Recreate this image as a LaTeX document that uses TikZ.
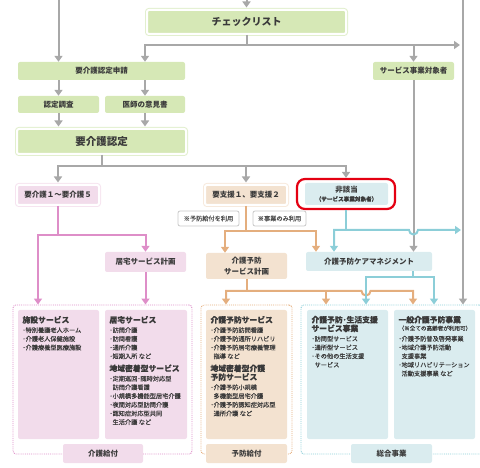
\documentclass[tikz,border=0pt]{standalone}
\usepackage{fontspec}
\setmainfont{Noto Sans CJK JP}
\newfontfamily\bodyfont[FakeBold=0.2]{Noto Sans CJK JP}
\usetikzlibrary{arrows.meta, calc}
\usepackage{xcolor}
% Colors
\definecolor{txt}{RGB}{58,58,58}
\definecolor{greenFill}{RGB}{214,232,182}
\definecolor{greenRing}{RGB}{226,239,206}
\definecolor{pinkFill}{RGB}{242,220,235}
\definecolor{pinkRing}{RGB}{246,228,240}
\definecolor{pinkLine}{RGB}{222,142,200}
\definecolor{tanFill}{RGB}{243,226,208}
\definecolor{tanRing}{RGB}{247,234,221}
\definecolor{tanLine}{RGB}{228,174,126}
\definecolor{tealFill}{RGB}{218,236,239}
\definecolor{tealLine}{RGB}{140,206,216}
\definecolor{grayLine}{RGB}{168,168,168}
\definecolor{noteLine}{RGB}{200,200,200}
\definecolor{alertRed}{RGB}{228,0,18}
\newcommand{\panelhead}[1]{{\fontsize{7.8}{10}\selectfont\bfseries #1}}
\tikzset{
    >={Triangle[width=8pt,length=6pt]},
    % Shapes
    box/.style={rectangle, rounded corners=2pt, inner sep=1pt, align=center,
                text=txt, font=\fontsize{7.5}{10.5}\selectfont\bfseries},
    boxGreen/.style={box, fill=greenFill},
    boxPink/.style={box, fill=pinkFill},
    boxTan/.style={box, fill=tanFill},
    boxTeal/.style={box, fill=tealFill},
    ring/.style={preaction={draw=#1, line width=4pt}, draw=white, line width=2pt},
    redMark/.style={rectangle, draw=alertRed, line width=2.2pt, rounded corners=8pt},
    note/.style={rectangle, draw=noteLine, line width=0.8pt, rounded corners=2pt, fill=white,
                 inner sep=1pt, text={rgb,255:red,80;green,80;blue,80},
                 font=\bodyfont\fontsize{6.2}{7}\selectfont},
    area/.style={rectangle, densely dotted, line width=0.9pt, rounded corners=3pt},
    panel/.style={rectangle, rounded corners=2pt, minimum height=129pt},
    panelTxt/.style={anchor=north west, inner sep=0pt, align=left, text=txt,
                     font=\bodyfont\fontsize{6.2}{8.7}\selectfont},
    % Flow
    flowGray/.style={->, line width=2pt, draw=grayLine},
    flowPink/.style={->, line width=2pt, draw=pinkLine},
    flowTan/.style={->, line width=2pt, draw=tanLine},
    flowTeal/.style={->, line width=2pt, draw=tealLine}
}
\begin{document}
\begin{tikzpicture}[x=1pt, y=-1pt]
\useasboundingbox (0,0) rectangle (480,468);

% areas
\node[area, draw=pinkLine, minimum width=179pt, minimum height=149pt] (areaKyufu) at (102.5,379.5) {};
\node[area, draw=tanLine, minimum width=91pt, minimum height=149pt] (areaYobo) at (246.5,379.5) {};
\node[area, draw=tealLine, minimum width=181pt, minimum height=149pt] (areaSogo) at (391.5,379.5) {};

% boxes
\node[boxGreen, ring=greenRing, minimum width=199pt, minimum height=24pt,
      font=\fontsize{10}{12}\selectfont\bfseries] (check) at (246.5,22) {チェックリスト};
\node[boxGreen, minimum width=167pt, minimum height=18pt] (apply) at (101.5,71) {要介護認定申請};
\node[boxGreen, minimum width=81pt, minimum height=18pt] (target) at (413.5,71) {サービス事業対象者};
\node[boxGreen, minimum width=81pt, minimum height=17pt] (survey) at (58.5,104.5) {認定調査};
\node[boxGreen, minimum width=80pt, minimum height=17pt] (doctor) at (145,104.5) {医師の意見書};
\node[boxGreen, ring=greenRing, minimum width=169pt, minimum height=25pt,
      font=\fontsize{10.5}{12}\selectfont\bfseries] (cert) at (101.5,141.5) {要介護認定};
\node[boxPink, ring=pinkRing, minimum width=82pt, minimum height=20pt] (care) at (58,195) {要介護１～要介護５};
\node[boxTan, ring=tanRing, minimum width=82pt, minimum height=20pt] (support) at (246,195) {要支援１、要支援２};
\node[boxTeal, minimum width=83pt, minimum height=22pt] (none) at (346.5,194)
     {非該当\\[-2pt]{\bodyfont\fontsize{5.6}{7}\selectfont（サービス事業対象者）}};
\node[redMark, minimum width=98pt, minimum height=30pt] (noneMark) at (346,194) {};
\node[note, minimum width=61pt, minimum height=15pt] (noteA) at (208.5,218.5) {※予防給付を利用};
\node[note, minimum width=53pt, minimum height=15pt] (noteB) at (279.5,218.5) {※事業のみ利用};
\node[boxPink, minimum width=81pt, minimum height=20pt] (homeplan) at (145.5,262) {居宅サービス計画};
\node[boxTan, minimum width=81pt, minimum height=26pt] (prevplan) at (246.5,266) {介護予防\\サービス計画};
\node[boxTeal, minimum width=126pt, minimum height=19pt] (mgmt) at (369,261.5) {介護予防ケアマネジメント};

% panels
\node[panel, fill=pinkFill, minimum width=81pt] (facility) at (58.5,374.5) {};
\node[panel, fill=pinkFill, minimum width=82pt] (home) at (146,374.5) {};
\node[panel, fill=tanFill, minimum width=81pt] (prevsvc) at (246.5,374.5) {};
\node[panel, fill=tealFill, minimum width=81pt] (life) at (347.5,374.5) {};
\node[panel, fill=tealFill, minimum width=81pt] (general) at (434.5,374.5) {};

\node[panelTxt] (facilityTxt) at ([shift={(4.5,6)}]facility.north west)
  {\panelhead{施設サービス}\\[1pt]
   ･特別養護老人ホーム\\
   ･介護老人保健施設\\
   ･介護療養型医療施設};
\node[panelTxt] (homeTxt) at ([shift={(4.5,6)}]home.north west)
  {\panelhead{居宅サービス}\\[1pt]
   ･訪問介護\\
   ･訪問看護\\
   ･通所介護\\
   ･短期入所 など\\[4pt]
   \panelhead{地域密着型サービス}\\[1pt]
   ･定期巡回･随時対応型\\
   \hspace*{0.5em}訪問介護看護\\
   ･小規模多機能型居宅介護\\
   ･夜間対応型訪問介護\\
   ･認知症対応型共同\\
   \hspace*{0.5em}生活介護 など};
\node[panelTxt] (prevsvcTxt) at ([shift={(4.5,6)}]prevsvc.north west)
  {\panelhead{介護予防サービス}\\[1pt]
   ･介護予防訪問看護\\
   ･介護予防通所リハビリ\\
   ･介護予防居宅療養管理\\
   \hspace*{0.5em}指導 など\\[4pt]
   \panelhead{地域密着型介護}\\
   \panelhead{予防サービス}\\[1pt]
   ･介護予防小規模\\
   \hspace*{0.5em}多機能型居宅介護\\
   ･介護予防認知症対応型\\
   \hspace*{0.5em}通所介護 など};
\node[panelTxt] (lifeTxt) at ([shift={(4.5,6)}]life.north west)
  {\panelhead{介護予防･生活支援}\\
   \panelhead{サービス事業}\\[1pt]
   ･訪問型サービス\\
   ･通所型サービス\\
   ･その他の生活支援\\
   \hspace*{0.5em}サービス};
\node[panelTxt] (generalTxt) at ([shift={(4.5,6)}]general.north west)
  {\panelhead{一般介護予防事業}\\[-1pt]
   {\fontsize{5.6}{7}\selectfont（※全ての高齢者が利用可）}\\[2pt]
   ･介護予防普及啓発事業\\
   ･地域介護予防活動\\
   \hspace*{0.5em}支援事業\\
   ･地域リハビリテーション\\
   \hspace*{0.5em}活動支援事業 など};

% area labels
\node[boxPink, minimum width=80pt, minimum height=19pt] (lblKyufu) at (103,453.5) {介護給付};
\node[boxTan, minimum width=81pt, minimum height=19pt] (lblYobo) at (246.5,453.5) {予防給付};
\node[boxTeal, minimum width=81pt, minimum height=19pt] (lblSogo) at (391.5,453.5) {総合事業};

% junctions
\coordinate (inL) at (58.5,0);
\coordinate (inC) at (246.5,0);
\coordinate (inR) at (463,0);
\coordinate (j1) at (246.5,45);
\coordinate (j2) at (101.5,166);
\coordinate (pinkL) at (38,235);
\coordinate (tanL) at (225,231);
\coordinate (tanR) at (316,231);
\coordinate (tealL) at (334,230);
\coordinate (tealR) at (461,230);
\coordinate (tealA) at (366,277);
\coordinate (tealB) at (434,277);
\coordinate (tan1) at (226,291);
\coordinate (tan2) at (326,291);
\coordinate (tan3) at (413,291);

% gray flow
\draw[flowGray] (inL) -- (apply.north -| inL);
\draw[flowGray, shorten >=1.5pt] (inC) -- (check.north);
\draw[flowGray] (inR) -- (inR |- areaSogo.north);
\draw[flowGray, -] (check.south) -- (j1);
\draw[flowGray, <->, shorten >=1pt] (doctor |- apply.north) -- (doctor |- j1) -- (j1 -| tealR);
\draw[flowGray] (j1 -| target) -- (target.north);
\draw[flowGray] (apply.south -| survey) -- (survey.north);
\draw[flowGray] (apply.south -| doctor) -- (doctor.north);
\draw[flowGray, shorten >=1.5pt] (survey.south) -- (survey.south |- cert.north);
\draw[flowGray, shorten >=1.5pt] (doctor.south) -- (doctor.south |- cert.north);
\draw[flowGray, -] (cert.south) -- (j2);
\draw[flowGray, <->, shorten <=1.5pt] (care.north) -- (care.north |- j2) -- (j2 -| noneMark) -- (noneMark.north);
\draw[flowGray, shorten >=1.5pt] (j2 -| support) -- (support.north);
\draw[flowGray] (target.south) -- (target.south |- mgmt.north);

% pink flow
\draw[flowPink, -] (care.south) -- (care.south |- pinkL);
\draw[flowPink, <->] (pinkL |- areaKyufu.north) -- (pinkL) -- (pinkL -| homeplan) -- (homeplan.north);
\draw[flowPink] (homeplan.south) -- (homeplan.south |- areaKyufu.north);

% tan flow
\draw[flowTan, -] (support.south) -- (support.south |- tanL);
\draw[flowTan, <->] (tanL |- prevplan.north) -- (tanL) -- (tanR) -- (tanR |- mgmt.north);
\draw[flowTan, -] (prevplan.south) -- (prevplan.south |- tan1);
\draw[flowTan, <->] (tan1 |- areaYobo.north) -- (tan1) -- ($(tealA |- tan1)+(-4.5,0)$)
    arc[start angle=180, end angle=0, radius=4.5] -- (tan3) -- (tan3 |- areaSogo.north);
\draw[flowTan] (tan2) -- (tan2 |- areaSogo.north);

% teal flow
\draw[flowTeal, -] (noneMark.south) -- (noneMark.south |- tealL);
\draw[flowTeal, <->] (tealL |- mgmt.north) -- (tealL) -- ($(target.south |- tealL)+(-4.5,0)$)
    arc[start angle=180, end angle=0, radius=4.5] -- (tealR);
\draw[flowTeal, -] (mgmt.south -| tan3) -- (tealA -| tan3);
\draw[flowTeal, <->] (tealA |- areaSogo.north) -- (tealA) -- (tealB) -- (tealB |- areaSogo.north);

\end{tikzpicture}
\end{document}
